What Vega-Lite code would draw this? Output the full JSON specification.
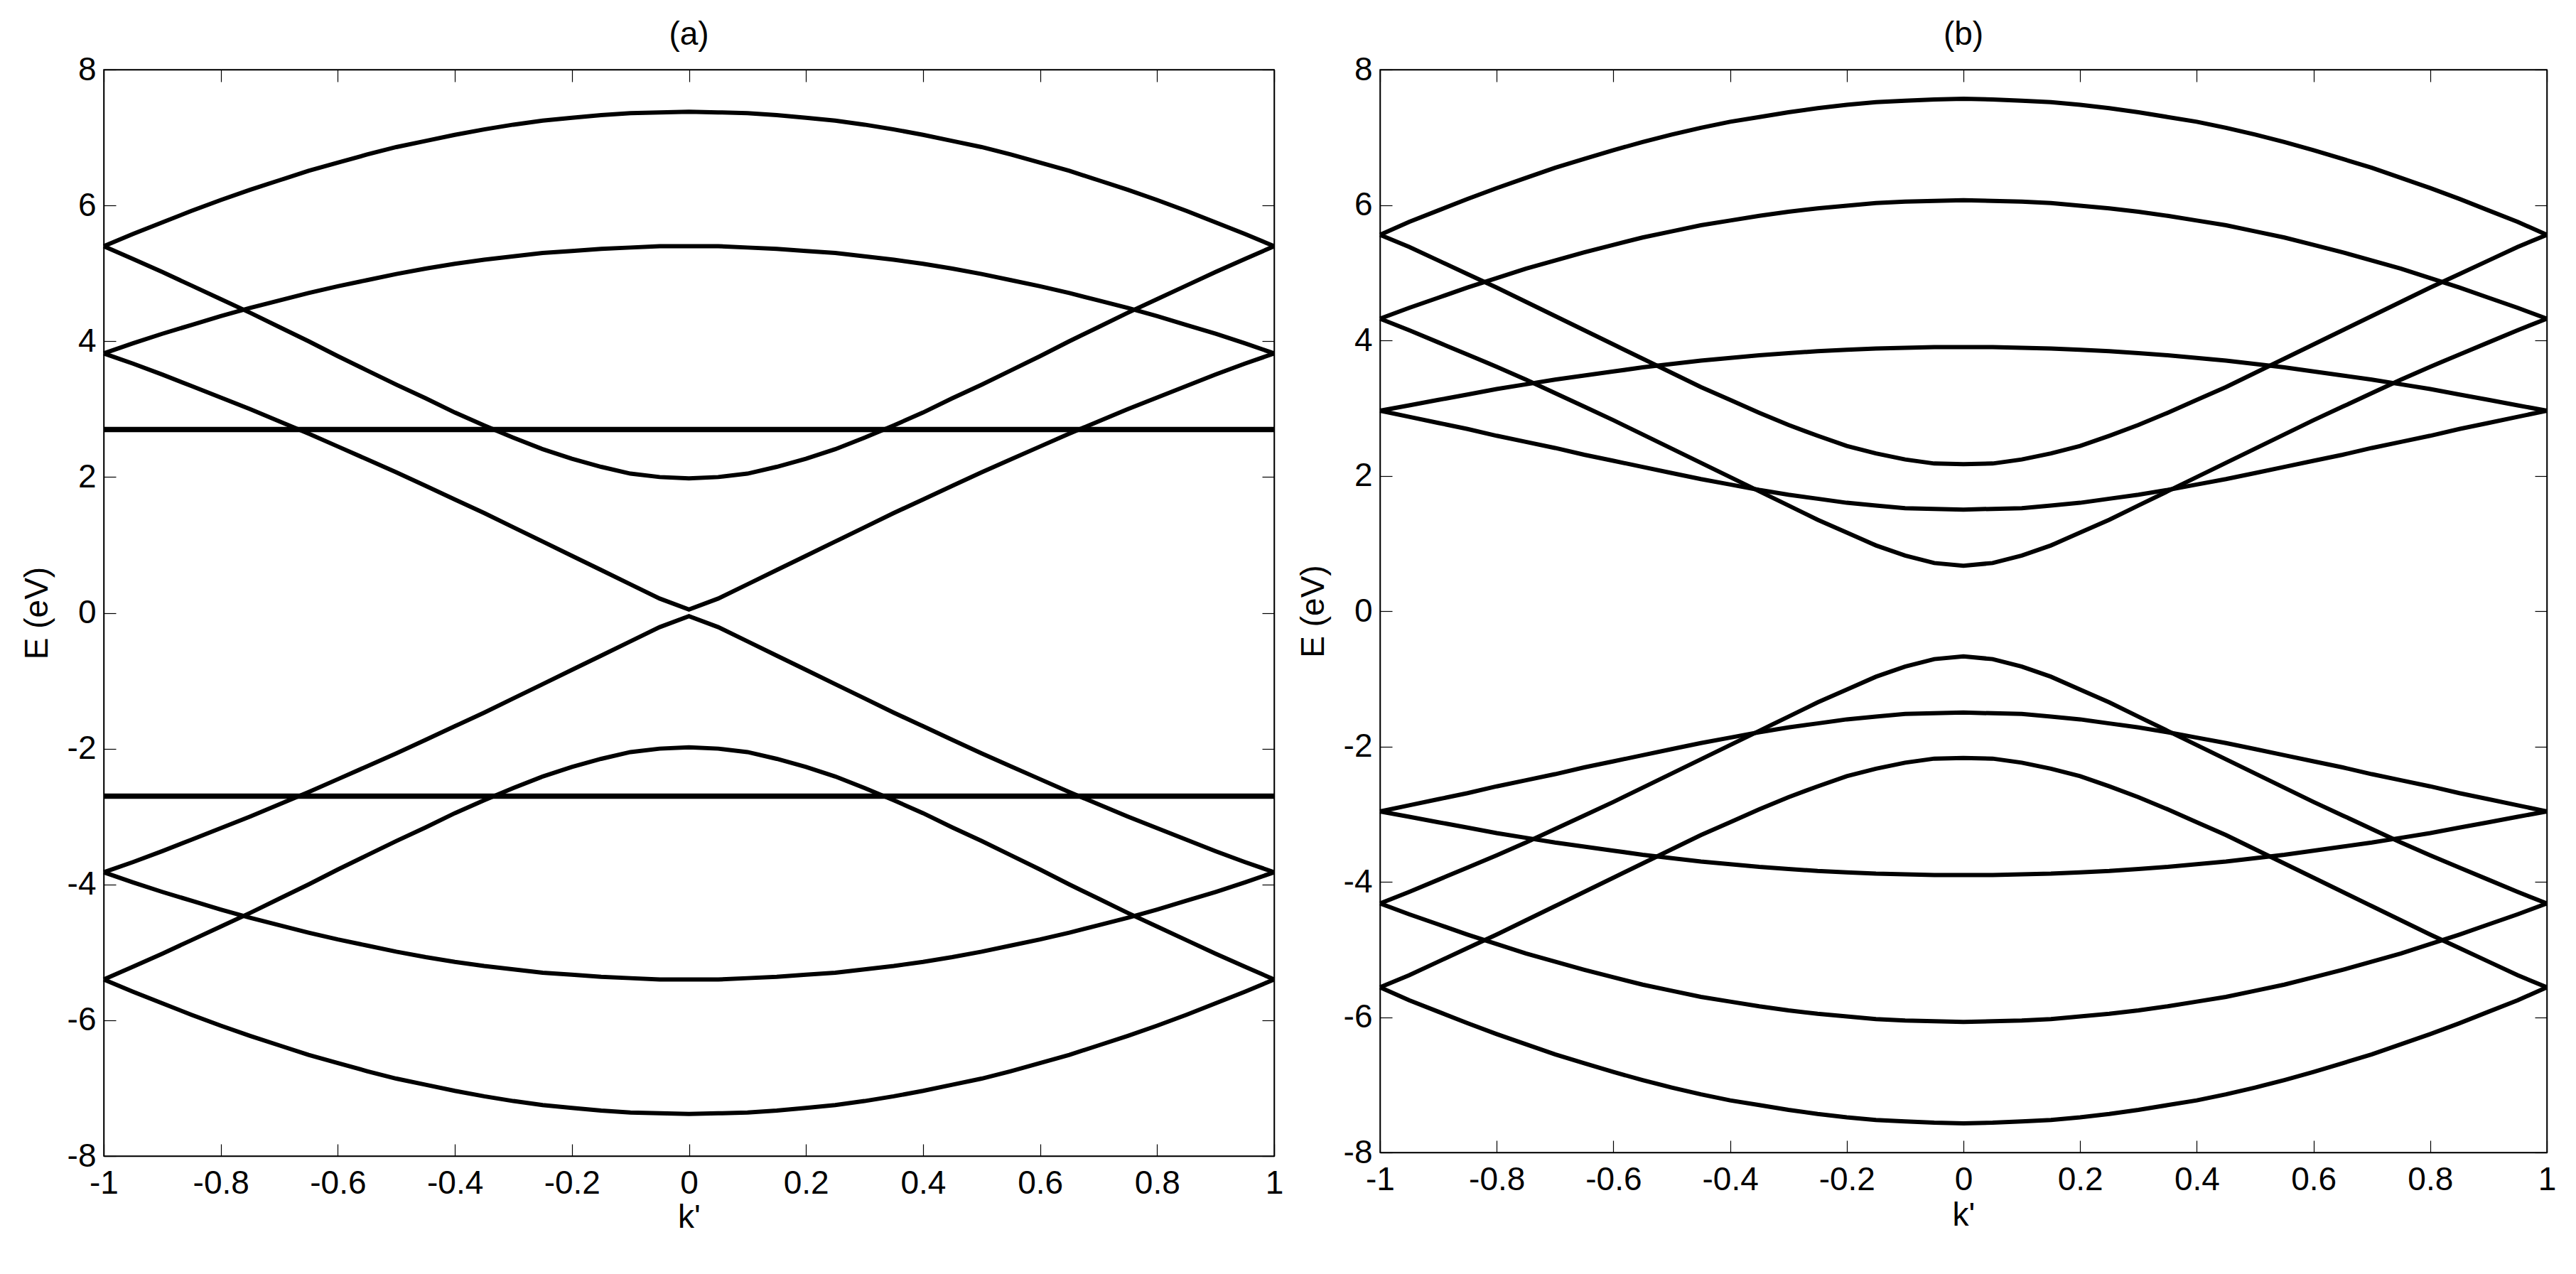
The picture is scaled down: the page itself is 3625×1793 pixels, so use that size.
{
  "$schema": "https://vega.github.io/schema/vega-lite/v6.json",
  "background": "white",
  "padding": {"left": 28, "top": 25, "right": 0, "bottom": 0},
  "bounds": "flush",
  "spacing": 149,
  "config": {
    "font": "Liberation Sans",
    "view": {"stroke": "black", "strokeWidth": 1.5},
    "axis": {
      "domainColor": "black", "domainWidth": 1.5, "tickColor": "black", "tickWidth": 1.2, "tickSize": -17,
      "grid": false, "labelFont": "Liberation Sans", "labelFontSize": 46, "labelColor": "black",
      "labelFlush": false, "labelOverlap": false, "titleFont": "Liberation Sans", "titleFontSize": 46,
      "titleFontWeight": "normal", "titleColor": "black", "titleBaseline": "middle",
      "labelExpr": "datum.value + ''"
    },
    "axisX": {"labelPadding": 33},
    "axisY": {"labelPadding": 28},
    "title": {"font": "Liberation Sans", "fontSize": 46, "fontWeight": "normal", "color": "black", "offset": 2}
  },
  "hconcat": [
    {
      "width": 1647, "height": 1529,
      "title": "(a)",
      "layer": [
        {
          "data": {"values": [
            {"k":-1,"u1":5.4,"u2":3.82,"u4":5.4,"u5":3.82,"d1":-5.4,"d2":-3.82,"d4":-5.4,"d5":-3.82},
            {"k":-0.95,"u1":5.58,"u2":3.97,"u4":5.21,"u5":3.67,"d1":-5.58,"d2":-3.97,"d4":-5.21,"d5":-3.67},
            {"k":-0.9,"u1":5.75,"u2":4.11,"u4":5.02,"u5":3.51,"d1":-5.75,"d2":-4.11,"d4":-5.02,"d5":-3.51},
            {"k":-0.85,"u1":5.92,"u2":4.24,"u4":4.82,"u5":3.34,"d1":-5.92,"d2":-4.24,"d4":-4.82,"d5":-3.34},
            {"k":-0.8,"u1":6.08,"u2":4.37,"u4":4.62,"u5":3.17,"d1":-6.08,"d2":-4.37,"d4":-4.62,"d5":-3.17},
            {"k":-0.75,"u1":6.23,"u2":4.49,"u4":4.42,"u5":3.0,"d1":-6.23,"d2":-4.49,"d4":-4.42,"d5":-3.0},
            {"k":-0.7,"u1":6.37,"u2":4.6,"u4":4.21,"u5":2.82,"d1":-6.37,"d2":-4.6,"d4":-4.21,"d5":-2.82},
            {"k":-0.65,"u1":6.51,"u2":4.71,"u4":4.0,"u5":2.64,"d1":-6.51,"d2":-4.71,"d4":-4.0,"d5":-2.64},
            {"k":-0.6,"u1":6.63,"u2":4.81,"u4":3.78,"u5":2.45,"d1":-6.63,"d2":-4.81,"d4":-3.78,"d5":-2.45},
            {"k":-0.55,"u1":6.75,"u2":4.9,"u4":3.57,"u5":2.26,"d1":-6.75,"d2":-4.9,"d4":-3.57,"d5":-2.26},
            {"k":-0.5,"u1":6.86,"u2":4.99,"u4":3.36,"u5":2.07,"d1":-6.86,"d2":-4.99,"d4":-3.36,"d5":-2.07},
            {"k":-0.45,"u1":6.95,"u2":5.07,"u4":3.16,"u5":1.87,"d1":-6.95,"d2":-5.07,"d4":-3.16,"d5":-1.87},
            {"k":-0.4,"u1":7.04,"u2":5.14,"u4":2.95,"u5":1.67,"d1":-7.04,"d2":-5.14,"d4":-2.95,"d5":-1.67},
            {"k":-0.35,"u1":7.12,"u2":5.2,"u4":2.76,"u5":1.47,"d1":-7.12,"d2":-5.2,"d4":-2.76,"d5":-1.47},
            {"k":-0.3,"u1":7.19,"u2":5.25,"u4":2.58,"u5":1.26,"d1":-7.19,"d2":-5.25,"d4":-2.58,"d5":-1.26},
            {"k":-0.25,"u1":7.25,"u2":5.3,"u4":2.41,"u5":1.05,"d1":-7.25,"d2":-5.3,"d4":-2.41,"d5":-1.05},
            {"k":-0.2,"u1":7.29,"u2":5.33,"u4":2.27,"u5":0.84,"d1":-7.29,"d2":-5.33,"d4":-2.27,"d5":-0.84},
            {"k":-0.15,"u1":7.33,"u2":5.36,"u4":2.15,"u5":0.63,"d1":-7.33,"d2":-5.36,"d4":-2.15,"d5":-0.63},
            {"k":-0.1,"u1":7.36,"u2":5.38,"u4":2.05,"u5":0.42,"d1":-7.36,"d2":-5.38,"d4":-2.05,"d5":-0.42},
            {"k":-0.05,"u1":7.37,"u2":5.4,"u4":2.0,"u5":0.21,"d1":-7.37,"d2":-5.4,"d4":-2.0,"d5":-0.21},
            {"k":0,"u1":7.38,"u2":5.4,"u4":1.98,"u5":0.05,"d1":-7.38,"d2":-5.4,"d4":-1.98,"d5":-0.05},
            {"k":0.05,"u1":7.37,"u2":5.4,"u4":2.0,"u5":0.21,"d1":-7.37,"d2":-5.4,"d4":-2.0,"d5":-0.21},
            {"k":0.1,"u1":7.36,"u2":5.38,"u4":2.05,"u5":0.42,"d1":-7.36,"d2":-5.38,"d4":-2.05,"d5":-0.42},
            {"k":0.15,"u1":7.33,"u2":5.36,"u4":2.15,"u5":0.63,"d1":-7.33,"d2":-5.36,"d4":-2.15,"d5":-0.63},
            {"k":0.2,"u1":7.29,"u2":5.33,"u4":2.27,"u5":0.84,"d1":-7.29,"d2":-5.33,"d4":-2.27,"d5":-0.84},
            {"k":0.25,"u1":7.25,"u2":5.3,"u4":2.41,"u5":1.05,"d1":-7.25,"d2":-5.3,"d4":-2.41,"d5":-1.05},
            {"k":0.3,"u1":7.19,"u2":5.25,"u4":2.58,"u5":1.26,"d1":-7.19,"d2":-5.25,"d4":-2.58,"d5":-1.26},
            {"k":0.35,"u1":7.12,"u2":5.2,"u4":2.76,"u5":1.47,"d1":-7.12,"d2":-5.2,"d4":-2.76,"d5":-1.47},
            {"k":0.4,"u1":7.04,"u2":5.14,"u4":2.95,"u5":1.67,"d1":-7.04,"d2":-5.14,"d4":-2.95,"d5":-1.67},
            {"k":0.45,"u1":6.95,"u2":5.07,"u4":3.16,"u5":1.87,"d1":-6.95,"d2":-5.07,"d4":-3.16,"d5":-1.87},
            {"k":0.5,"u1":6.86,"u2":4.99,"u4":3.36,"u5":2.07,"d1":-6.86,"d2":-4.99,"d4":-3.36,"d5":-2.07},
            {"k":0.55,"u1":6.75,"u2":4.9,"u4":3.57,"u5":2.26,"d1":-6.75,"d2":-4.9,"d4":-3.57,"d5":-2.26},
            {"k":0.6,"u1":6.63,"u2":4.81,"u4":3.78,"u5":2.45,"d1":-6.63,"d2":-4.81,"d4":-3.78,"d5":-2.45},
            {"k":0.65,"u1":6.51,"u2":4.71,"u4":4.0,"u5":2.64,"d1":-6.51,"d2":-4.71,"d4":-4.0,"d5":-2.64},
            {"k":0.7,"u1":6.37,"u2":4.6,"u4":4.21,"u5":2.82,"d1":-6.37,"d2":-4.6,"d4":-4.21,"d5":-2.82},
            {"k":0.75,"u1":6.23,"u2":4.49,"u4":4.42,"u5":3.0,"d1":-6.23,"d2":-4.49,"d4":-4.42,"d5":-3.0},
            {"k":0.8,"u1":6.08,"u2":4.37,"u4":4.62,"u5":3.17,"d1":-6.08,"d2":-4.37,"d4":-4.62,"d5":-3.17},
            {"k":0.85,"u1":5.92,"u2":4.24,"u4":4.82,"u5":3.34,"d1":-5.92,"d2":-4.24,"d4":-4.82,"d5":-3.34},
            {"k":0.9,"u1":5.75,"u2":4.11,"u4":5.02,"u5":3.51,"d1":-5.75,"d2":-4.11,"d4":-5.02,"d5":-3.51},
            {"k":0.95,"u1":5.58,"u2":3.97,"u4":5.21,"u5":3.67,"d1":-5.58,"d2":-3.97,"d4":-5.21,"d5":-3.67},
            {"k":1,"u1":5.4,"u2":3.82,"u4":5.4,"u5":3.82,"d1":-5.4,"d2":-3.82,"d4":-5.4,"d5":-3.82}
          ]},
          "transform": [{"fold": ["u1","u2","u4","u5","d1","d2","d4","d5"], "as": ["band","E"]}],
          "mark": {"type": "line", "color": "black", "strokeWidth": 6},
          "encoding": {
            "x": {"field": "k", "type": "quantitative", "scale": {"domain": [-1, 1], "nice": false, "zero": false},
                  "axis": {"orient": "bottom", "title": "k'", "values": [-1,-0.8,-0.6,-0.4,-0.2,0,0.2,0.4,0.6,0.8,1], "titleY": 86}},
            "y": {"field": "E", "type": "quantitative", "scale": {"domain": [-8, 8], "nice": false},
                  "axis": {"orient": "left", "title": "E (eV)", "values": [-8,-6,-4,-2,0,2,4,6,8], "titleX": -94}},
            "detail": {"field": "band"}
          }
        },
        {
          "data": {"values": [
            {"band": "f1", "k": -1, "E": 2.7},
            {"band": "f1", "k": 1, "E": 2.7},
            {"band": "f2", "k": -1, "E": -2.7},
            {"band": "f2", "k": 1, "E": -2.7}
          ]},
          "mark": {"type": "line", "color": "black", "strokeWidth": 7.5},
          "encoding": {
            "x": {"field": "k", "type": "quantitative", "scale": {"domain": [-1, 1], "nice": false, "zero": false},
                  "axis": {"orient": "top", "title": null, "labels": false, "values": [-1,-0.8,-0.6,-0.4,-0.2,0,0.2,0.4,0.6,0.8,1]}},
            "y": {"field": "E", "type": "quantitative", "scale": {"domain": [-8, 8], "nice": false},
                  "axis": {"orient": "right", "title": null, "labels": false, "values": [-8,-6,-4,-2,0,2,4,6,8]}},
            "detail": {"field": "band"}
          }
        }
      ],
      "resolve": {"axis": {"x": "independent", "y": "independent"}}
    },
    {
      "width": 1642, "height": 1524,
      "title": "(b)",
      "data": {"values": [
        {"k":-1,"v1":5.56,"v2":4.32,"v3":2.96,"v4":5.56,"v5":4.32,"v6":2.96,"w1":-5.56,"w2":-4.32,"w3":-2.96,"w4":-5.56,"w5":-4.32,"w6":-2.96},
        {"k":-0.95,"v1":5.75,"v2":4.48,"v3":3.04,"v4":5.38,"v5":4.15,"v6":2.87,"w1":-5.75,"w2":-4.48,"w3":-3.04,"w4":-5.38,"w5":-4.15,"w6":-2.87},
        {"k":-0.9,"v1":5.92,"v2":4.63,"v3":3.12,"v4":5.18,"v5":3.97,"v6":2.78,"w1":-5.92,"w2":-4.63,"w3":-3.12,"w4":-5.18,"w5":-3.97,"w6":-2.78},
        {"k":-0.85,"v1":6.09,"v2":4.78,"v3":3.2,"v4":4.98,"v5":3.79,"v6":2.69,"w1":-6.09,"w2":-4.78,"w3":-3.2,"w4":-4.98,"w5":-3.79,"w6":-2.69},
        {"k":-0.8,"v1":6.25,"v2":4.92,"v3":3.28,"v4":4.78,"v5":3.61,"v6":2.59,"w1":-6.25,"w2":-4.92,"w3":-3.28,"w4":-4.78,"w5":-3.61,"w6":-2.59},
        {"k":-0.75,"v1":6.4,"v2":5.06,"v3":3.35,"v4":4.57,"v5":3.42,"v6":2.5,"w1":-6.4,"w2":-5.06,"w3":-3.35,"w4":-4.57,"w5":-3.42,"w6":-2.5},
        {"k":-0.7,"v1":6.55,"v2":5.18,"v3":3.42,"v4":4.36,"v5":3.22,"v6":2.41,"w1":-6.55,"w2":-5.18,"w3":-3.42,"w4":-4.36,"w5":-3.22,"w6":-2.41},
        {"k":-0.65,"v1":6.68,"v2":5.3,"v3":3.48,"v4":4.15,"v5":3.02,"v6":2.31,"w1":-6.68,"w2":-5.3,"w3":-3.48,"w4":-4.15,"w5":-3.02,"w6":-2.31},
        {"k":-0.6,"v1":6.81,"v2":5.41,"v3":3.54,"v4":3.94,"v5":2.82,"v6":2.22,"w1":-6.81,"w2":-5.41,"w3":-3.54,"w4":-3.94,"w5":-2.82,"w6":-2.22},
        {"k":-0.55,"v1":6.93,"v2":5.52,"v3":3.6,"v4":3.73,"v5":2.61,"v6":2.13,"w1":-6.93,"w2":-5.52,"w3":-3.6,"w4":-3.73,"w5":-2.61,"w6":-2.13},
        {"k":-0.5,"v1":7.04,"v2":5.61,"v3":3.65,"v4":3.52,"v5":2.4,"v6":2.04,"w1":-7.04,"w2":-5.61,"w3":-3.65,"w4":-3.52,"w5":-2.4,"w6":-2.04},
        {"k":-0.45,"v1":7.14,"v2":5.7,"v3":3.7,"v4":3.31,"v5":2.19,"v6":1.95,"w1":-7.14,"w2":-5.7,"w3":-3.7,"w4":-3.31,"w5":-2.19,"w6":-1.95},
        {"k":-0.4,"v1":7.23,"v2":5.77,"v3":3.74,"v4":3.12,"v5":1.98,"v6":1.87,"w1":-7.23,"w2":-5.77,"w3":-3.74,"w4":-3.12,"w5":-1.98,"w6":-1.87},
        {"k":-0.35,"v1":7.3,"v2":5.84,"v3":3.78,"v4":2.93,"v5":1.77,"v6":1.79,"w1":-7.3,"w2":-5.84,"w3":-3.78,"w4":-2.93,"w5":-1.77,"w6":-1.79},
        {"k":-0.3,"v1":7.37,"v2":5.9,"v3":3.81,"v4":2.75,"v5":1.56,"v6":1.72,"w1":-7.37,"w2":-5.9,"w3":-3.81,"w4":-2.75,"w5":-1.56,"w6":-1.72},
        {"k":-0.25,"v1":7.43,"v2":5.95,"v3":3.84,"v4":2.59,"v5":1.35,"v6":1.66,"w1":-7.43,"w2":-5.95,"w3":-3.84,"w4":-2.59,"w5":-1.35,"w6":-1.66},
        {"k":-0.2,"v1":7.48,"v2":5.99,"v3":3.86,"v4":2.44,"v5":1.16,"v6":1.6,"w1":-7.48,"w2":-5.99,"w3":-3.86,"w4":-2.44,"w5":-1.16,"w6":-1.6},
        {"k":-0.15,"v1":7.52,"v2":6.03,"v3":3.88,"v4":2.33,"v5":0.97,"v6":1.56,"w1":-7.52,"w2":-6.03,"w3":-3.88,"w4":-2.33,"w5":-0.97,"w6":-1.56},
        {"k":-0.1,"v1":7.54,"v2":6.05,"v3":3.89,"v4":2.24,"v5":0.82,"v6":1.52,"w1":-7.54,"w2":-6.05,"w3":-3.89,"w4":-2.24,"w5":-0.82,"w6":-1.52},
        {"k":-0.05,"v1":7.56,"v2":6.06,"v3":3.9,"v4":2.18,"v5":0.71,"v6":1.51,"w1":-7.56,"w2":-6.06,"w3":-3.9,"w4":-2.18,"w5":-0.71,"w6":-1.51},
        {"k":0,"v1":7.57,"v2":6.07,"v3":3.9,"v4":2.17,"v5":0.67,"v6":1.5,"w1":-7.57,"w2":-6.07,"w3":-3.9,"w4":-2.17,"w5":-0.67,"w6":-1.5},
        {"k":0.05,"v1":7.56,"v2":6.06,"v3":3.9,"v4":2.18,"v5":0.71,"v6":1.51,"w1":-7.56,"w2":-6.06,"w3":-3.9,"w4":-2.18,"w5":-0.71,"w6":-1.51},
        {"k":0.1,"v1":7.54,"v2":6.05,"v3":3.89,"v4":2.24,"v5":0.82,"v6":1.52,"w1":-7.54,"w2":-6.05,"w3":-3.89,"w4":-2.24,"w5":-0.82,"w6":-1.52},
        {"k":0.15,"v1":7.52,"v2":6.03,"v3":3.88,"v4":2.33,"v5":0.97,"v6":1.56,"w1":-7.52,"w2":-6.03,"w3":-3.88,"w4":-2.33,"w5":-0.97,"w6":-1.56},
        {"k":0.2,"v1":7.48,"v2":5.99,"v3":3.86,"v4":2.44,"v5":1.16,"v6":1.6,"w1":-7.48,"w2":-5.99,"w3":-3.86,"w4":-2.44,"w5":-1.16,"w6":-1.6},
        {"k":0.25,"v1":7.43,"v2":5.95,"v3":3.84,"v4":2.59,"v5":1.35,"v6":1.66,"w1":-7.43,"w2":-5.95,"w3":-3.84,"w4":-2.59,"w5":-1.35,"w6":-1.66},
        {"k":0.3,"v1":7.37,"v2":5.9,"v3":3.81,"v4":2.75,"v5":1.56,"v6":1.72,"w1":-7.37,"w2":-5.9,"w3":-3.81,"w4":-2.75,"w5":-1.56,"w6":-1.72},
        {"k":0.35,"v1":7.3,"v2":5.84,"v3":3.78,"v4":2.93,"v5":1.77,"v6":1.79,"w1":-7.3,"w2":-5.84,"w3":-3.78,"w4":-2.93,"w5":-1.77,"w6":-1.79},
        {"k":0.4,"v1":7.23,"v2":5.77,"v3":3.74,"v4":3.12,"v5":1.98,"v6":1.87,"w1":-7.23,"w2":-5.77,"w3":-3.74,"w4":-3.12,"w5":-1.98,"w6":-1.87},
        {"k":0.45,"v1":7.14,"v2":5.7,"v3":3.7,"v4":3.31,"v5":2.19,"v6":1.95,"w1":-7.14,"w2":-5.7,"w3":-3.7,"w4":-3.31,"w5":-2.19,"w6":-1.95},
        {"k":0.5,"v1":7.04,"v2":5.61,"v3":3.65,"v4":3.52,"v5":2.4,"v6":2.04,"w1":-7.04,"w2":-5.61,"w3":-3.65,"w4":-3.52,"w5":-2.4,"w6":-2.04},
        {"k":0.55,"v1":6.93,"v2":5.52,"v3":3.6,"v4":3.73,"v5":2.61,"v6":2.13,"w1":-6.93,"w2":-5.52,"w3":-3.6,"w4":-3.73,"w5":-2.61,"w6":-2.13},
        {"k":0.6,"v1":6.81,"v2":5.41,"v3":3.54,"v4":3.94,"v5":2.82,"v6":2.22,"w1":-6.81,"w2":-5.41,"w3":-3.54,"w4":-3.94,"w5":-2.82,"w6":-2.22},
        {"k":0.65,"v1":6.68,"v2":5.3,"v3":3.48,"v4":4.15,"v5":3.02,"v6":2.31,"w1":-6.68,"w2":-5.3,"w3":-3.48,"w4":-4.15,"w5":-3.02,"w6":-2.31},
        {"k":0.7,"v1":6.55,"v2":5.18,"v3":3.42,"v4":4.36,"v5":3.22,"v6":2.41,"w1":-6.55,"w2":-5.18,"w3":-3.42,"w4":-4.36,"w5":-3.22,"w6":-2.41},
        {"k":0.75,"v1":6.4,"v2":5.06,"v3":3.35,"v4":4.57,"v5":3.42,"v6":2.5,"w1":-6.4,"w2":-5.06,"w3":-3.35,"w4":-4.57,"w5":-3.42,"w6":-2.5},
        {"k":0.8,"v1":6.25,"v2":4.92,"v3":3.28,"v4":4.78,"v5":3.61,"v6":2.59,"w1":-6.25,"w2":-4.92,"w3":-3.28,"w4":-4.78,"w5":-3.61,"w6":-2.59},
        {"k":0.85,"v1":6.09,"v2":4.78,"v3":3.2,"v4":4.98,"v5":3.79,"v6":2.69,"w1":-6.09,"w2":-4.78,"w3":-3.2,"w4":-4.98,"w5":-3.79,"w6":-2.69},
        {"k":0.9,"v1":5.92,"v2":4.63,"v3":3.12,"v4":5.18,"v5":3.97,"v6":2.78,"w1":-5.92,"w2":-4.63,"w3":-3.12,"w4":-5.18,"w5":-3.97,"w6":-2.78},
        {"k":0.95,"v1":5.75,"v2":4.48,"v3":3.04,"v4":5.38,"v5":4.15,"v6":2.87,"w1":-5.75,"w2":-4.48,"w3":-3.04,"w4":-5.38,"w5":-4.15,"w6":-2.87},
        {"k":1,"v1":5.56,"v2":4.32,"v3":2.96,"v4":5.56,"v5":4.32,"v6":2.96,"w1":-5.56,"w2":-4.32,"w3":-2.96,"w4":-5.56,"w5":-4.32,"w6":-2.96}
      ]},
      "transform": [{"fold": ["v1","v2","v3","v4","v5","v6","w1","w2","w3","w4","w5","w6"], "as": ["band","E"]}],
      "layer": [
        {
          "mark": {"type": "line", "color": "black", "strokeWidth": 6},
          "encoding": {
            "x": {"field": "k", "type": "quantitative", "scale": {"domain": [-1, 1], "nice": false, "zero": false},
                  "axis": {"orient": "bottom", "title": "k'", "values": [-1,-0.8,-0.6,-0.4,-0.2,0,0.2,0.4,0.6,0.8,1], "titleY": 88}},
            "y": {"field": "E", "type": "quantitative", "scale": {"domain": [-8, 8], "nice": false},
                  "axis": {"orient": "left", "title": "E (eV)", "values": [-8,-6,-4,-2,0,2,4,6,8], "titleX": -94}},
            "detail": {"field": "band"}
          }
        },
        {
          "mark": {"type": "line", "color": "black", "strokeOpacity": 0},
          "encoding": {
            "x": {"field": "k", "type": "quantitative", "scale": {"domain": [-1, 1], "nice": false, "zero": false},
                  "axis": {"orient": "top", "title": null, "labels": false, "values": [-1,-0.8,-0.6,-0.4,-0.2,0,0.2,0.4,0.6,0.8,1]}},
            "y": {"field": "E", "type": "quantitative", "scale": {"domain": [-8, 8], "nice": false},
                  "axis": {"orient": "right", "title": null, "labels": false, "values": [-8,-6,-4,-2,0,2,4,6,8]}},
            "detail": {"field": "band"}
          }
        }
      ],
      "resolve": {"axis": {"x": "independent", "y": "independent"}}
    }
  ]
}
